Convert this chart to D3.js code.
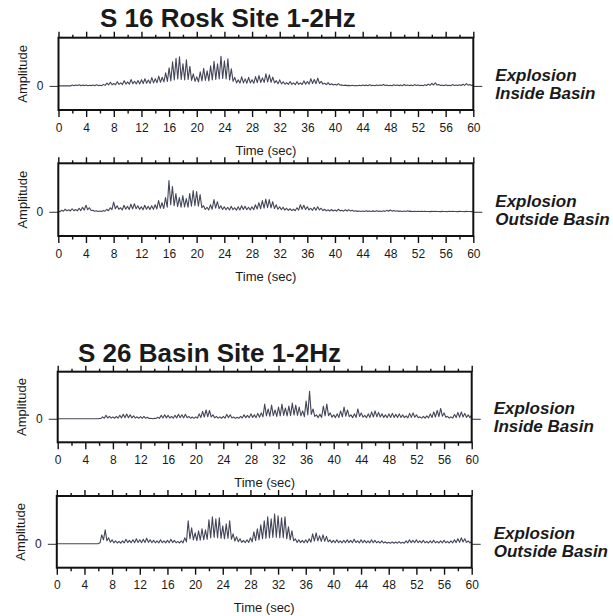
<!DOCTYPE html>
<html>
<head>
<meta charset="utf-8">
<script src="https://cdn.jsdelivr.net/npm/d3@7"></script>
<style>
  html, body { margin: 0; padding: 0; background: #fff; }
  svg { display: block; }
  text { font-family: "Liberation Sans", Arial, Helvetica, sans-serif; fill: #1a1a1a; }
</style>
</head>
<body>
<svg id="chart" width="613" height="616"></svg>
<script>
// ---- Data -------------------------------------------------------------
// Ground-motion traces (1-2 Hz band), relative amplitude.
// Peaks sampled at t = 0, 0.5, 1 ... 60 s; troughs at t = 0.25, 0.75 ... 59.75 s.
const majorTicks = [0, 4, 8, 12, 16, 20, 24, 28, 32, 36, 40, 44, 48, 52, 56, 60];
const minorTicks = [2, 6, 10, 14, 18, 22, 26, 30, 34, 38, 42, 46, 50, 54, 58];
const siteTitles = ["S 16 Rosk Site 1-2Hz", "S 26 Basin Site 1-2Hz"];
const sourceLabels = [
  ["Explosion", "Inside Basin"],
  ["Explosion", "Outside Basin"],
  ["Explosion", "Inside Basin"],
  ["Explosion", "Outside Basin"]
];

const s16InsidePeaks = [
  0, 0, 0, 0.2, 0.8, 1, 1.2, 0.8, 1, 0.6, 0.9, 1.1, 0.7, 1.5, 2.8, 3.6,
  2.4, 4.2, 3.1, 5.2, 4, 6.3, 4.6, 5.4, 6.2, 7.1, 5.8, 8.3, 7.2, 9.8, 8.6, 13,
  18, 24, 27.5, 29, 22, 26, 19.5, 12, 9, 14, 17.5, 15, 20, 24.5, 22, 29.5,
  25, 27, 17, 8.5, 6, 9, 7, 8.5, 6.2, 9.3, 10.2, 8, 12, 11, 8.8, 5.2,
  6, 4.1, 3.2, 4.3, 3, 4.2, 3.1, 5, 4.4, 7.2, 6.3, 7.8, 4.5, 2.6, 3.2, 2.1,
  1.6, 2.2, 1, 0.8, 0.5, 0.6, 0.4, 0.7, 1, 0.8, 1.1, 0.6, 1, 0.9, 1.3, 0.8,
  0.7, 1.2, 1, 0.8, 1.4, 0.9, 0.8, 1.3, 1, 0.6, 1.2, 1.8, 2.6, 3.1, 1.5, 0.8,
  1.1, 0.7, 1.3, 0.9, 1.2, 1.6, 2.2, 1.4, 0.8
];
const s16InsideTroughs = [
  0, 0, 0, 0, 0.2, 0.3, 0.2, 0.3, 0.2, 0.3, 0.2, 0.3, 0.2, 0.5, 1, 1.2,
  1.1, 1.5, 1.3, 1.8, 1.6, 2.2, 1.9, 2, 2.4, 2.6, 2.5, 3, 3.2, 3.6, 4, 4.5,
  5, 6, 7, 6.5, 6, 6.5, 5.5, 4.5, 4, 5, 5.5, 5, 6, 6.5, 7, 7.5,
  7, 6, 4.5, 3, 2.8, 3, 2.7, 3, 2.6, 3.2, 3.4, 3.5, 4, 3.6, 3, 2.2,
  2, 1.6, 1.4, 1.5, 1.3, 1.5, 1.4, 1.7, 1.8, 2.4, 2.2, 2.5, 1.8, 1.2, 1.1, 0.9,
  0.7, 0.6, 0.4, 0.3, 0.2, 0.2, 0.1, 0.2, 0.3, 0.2, 0.3, 0.2, 0.3, 0.3, 0.4, 0.2,
  0.2, 0.4, 0.3, 0.2, 0.4, 0.3, 0.2, 0.4, 0.3, 0.2, 0.4, 0.6, 0.9, 0.8, 0.4, 0.2,
  0.3, 0.2, 0.4, 0.3, 0.4, 0.5, 0.7, 0.4
];

const s16OutsidePeaks = [
  0.3, 1.5, 2.5, 2, 3, 2.2, 3.5, 4.5, 6.5, 4, 1.5, 1, 0.8, 1.2, 2.5, 4,
  9.5, 6, 4, 6.5, 5.5, 7.5, 8, 6, 5, 6.5, 5.5, 6, 7, 11, 9, 14,
  31, 25, 18, 14, 16, 13, 18, 21, 20, 17, 6, 4.5, 7, 12, 10, 6,
  5, 4.5, 5.5, 4, 5, 6, 5.5, 4.5, 5, 7, 9, 11, 12.5, 12, 10, 7,
  5, 4.5, 3.5, 3, 2.5, 4, 7, 6.5, 5, 3.5, 4.5, 5, 3.5, 2.5, 2, 2.2,
  1.8, 2.5, 1.5, 2, 2.2, 1.5, 1, 0.7, 0.8, 1, 0.7, 0.9, 1.1, 0.8, 1, 1.4,
  1.8, 1.3, 1, 0.8, 0.7, 1, 0.6, 0.5, 0.4, 0.6, 0.5, 0.3, 0.4, 0.5, 0.3, 0.4,
  0.3, 0.5, 0.4, 0.3, 0.4, 0.3, 0.4, 0.3, 0.2
];
const s16OutsideTroughs = [
  0.1, 0.6, 0.9, 0.8, 1, 0.9, 1.2, 1.6, 2, 1.2, 0.5, 0.3, 0.3, 0.5, 1, 2,
  3, 2.4, 1.8, 2.5, 2.2, 2.8, 3, 2.4, 2, 2.5, 2.2, 2.4, 2.8, 3.5, 3.2, 4.5,
  7, 6, 5, 4.5, 4.8, 4.5, 5.5, 6, 5.5, 4, 2.2, 1.8, 2.5, 3.5, 3, 2.2,
  2, 1.8, 2, 1.6, 1.8, 2.2, 2, 1.8, 2, 2.6, 3, 3.6, 4, 3.8, 3.2, 2.5,
  2, 1.6, 1.3, 1.1, 1, 1.6, 2.5, 2.2, 1.8, 1.4, 1.6, 1.8, 1.2, 0.9, 0.8, 0.8,
  0.7, 0.9, 0.6, 0.7, 0.7, 0.5, 0.4, 0.3, 0.3, 0.4, 0.3, 0.3, 0.4, 0.3, 0.4, 0.5,
  0.6, 0.5, 0.4, 0.3, 0.3, 0.4, 0.2, 0.2, 0.2, 0.2, 0.2, 0.1, 0.2, 0.2, 0.1, 0.2,
  0.1, 0.2, 0.2, 0.1, 0.2, 0.1, 0.2, 0.1
];

const s26InsidePeaks = [
  0, 0, 0, 0, 0, 0, 0, 0, 0, 0, 0, 0,
  0.3, 2, 3.5, 2.5, 2, 2.5, 3.5, 4.5, 4.8, 4, 3, 2, 2.2, 2.5, 1.5, 0.5,
  0.4, 1.5, 3.5, 4, 3.5, 2.5, 3.5, 4.5, 4, 4.5, 2.5, 1.8, 2, 5, 7.5, 9,
  8.5, 4, 2.5, 2, 2.5, 4.5, 4, 1.8, 1.5, 2.5, 4, 3.5, 5, 4, 5.5, 6,
  15, 10, 14, 9, 12, 15, 11, 13, 16, 14, 12, 8, 18, 28, 10, 4,
  4.5, 13, 15, 6, 4, 5, 8, 12, 9, 4, 5, 10, 6, 3.5, 5, 7,
  8, 6.5, 5, 4, 5, 5.5, 4.5, 5, 4, 3, 5.5, 6, 4, 2, 2.5, 3,
  5, 7, 8.5, 10.5, 6, 2.5, 2, 4.5, 6.5, 7, 5.5, 4, 4
];
const s26InsideTroughs = [
  0, 0, 0, 0, 0, 0, 0, 0, 0, 0, 0, 0,
  0.2, 0.5, 0.8, 0.6, 0.5, 0.6, 0.8, 1, 1.1, 0.9, 0.7, 0.5, 0.5, 0.5, 0.3, 0.1,
  0.2, 0.4, 0.8, 0.9, 0.8, 0.6, 0.8, 1, 0.9, 1, 0.6, 0.4, 0.6, 1.2, 1.8, 2,
  1.8, 0.9, 0.6, 0.5, 0.6, 1, 0.8, 0.4, 0.5, 0.8, 1.2, 1, 1.4, 1.2, 1.6, 2,
  3, 2.5, 3.2, 2.4, 3, 3.5, 2.8, 3.2, 3.8, 3.4, 3, 2.2, 4, 4.5, 2.4, 1.2,
  1.4, 3, 3.2, 1.6, 1.2, 1.4, 2, 2.6, 2.2, 1.2, 1.4, 2.4, 1.6, 1, 1.4, 1.8,
  2, 1.8, 1.4, 1.1, 1.3, 1.4, 1.2, 1.3, 1.1, 0.9, 1.4, 1.5, 1.1, 0.6, 0.7, 0.8,
  1.3, 1.8, 2.2, 2.6, 1.6, 0.7, 0.6, 1.2, 1.6, 1.8, 1.4, 1.1
];

const s26OutsidePeaks = [
  0, 0, 0, 0, 0, 0, 0, 0, 0, 0, 0, 0,
  0.2, 9, 14, 6, 4, 3, 2.5, 3, 4.5, 3.5, 4, 5, 4, 4.5, 5.5, 4,
  3.5, 3, 4, 3, 3.5, 4.5, 3.5, 2.5, 3, 6, 23, 16, 11, 13, 15, 14,
  24, 27, 25, 26, 18, 20, 23, 10, 7, 5, 3.5, 4, 6, 12, 15, 19,
  23, 27, 25, 30, 28, 26, 27, 17, 13, 5, 4, 3.5, 4, 5, 10, 11,
  8, 9, 7.5, 4, 3.5, 4, 3, 3.5, 4, 3.5, 4.5, 3, 4, 3.5, 3, 4,
  3.5, 2.5, 3, 2, 1.5, 2, 1.8, 2.2, 1.5, 3, 4, 3.5, 4, 3, 3.5, 2.5,
  3, 3.5, 2.5, 3, 3.5, 2.5, 3, 4, 5, 6, 5, 3, 2.5
];
const s26OutsideTroughs = [
  0, 0, 0, 0, 0, 0, 0, 0, 0, 0, 0, 0,
  1, 4, 3, 1.5, 1, 0.8, 0.7, 0.9, 1.2, 1, 1.1, 1.3, 1.1, 1.2, 1.4, 1.1,
  1, 0.9, 1.1, 0.9, 1, 1.2, 1, 0.8, 1, 2, 5, 4, 3.2, 3.6, 4, 4.5,
  6, 6.5, 6, 5.5, 5, 5.5, 4.5, 2.8, 2, 1.4, 1.1, 1.3, 2, 3.2, 4, 5,
  5.5, 6, 6.5, 6.5, 6, 6, 5, 4, 3, 1.4, 1.2, 1, 1.2, 1.6, 2.8, 3,
  2.4, 2.5, 2, 1.2, 1.1, 1.2, 0.9, 1, 1.2, 1.1, 1.3, 0.9, 1.1, 1, 0.9, 1.1,
  1, 0.8, 0.8, 0.6, 0.5, 0.6, 0.6, 0.6, 0.6, 0.9, 1.2, 1.1, 1.1, 0.9, 1, 0.8,
  0.9, 1, 0.8, 0.9, 1, 0.8, 0.9, 1.2, 1.5, 1.8, 1.4, 0.9
];

const tracePeaks = [s16InsidePeaks, s16OutsidePeaks, s26InsidePeaks, s26OutsidePeaks];
const traceTroughs = [s16InsideTroughs, s16OutsideTroughs, s26InsideTroughs, s26OutsideTroughs];

// ---- Layout -----------------------------------------------------------
const panels = [
  { left: 58.5, right: 473.3, top: 37.7,  bottom: 110   },
  { left: 58.3, right: 473.3, top: 163.3, bottom: 236   },
  { left: 57.7, right: 471.7, top: 371.7, bottom: 442.3 },
  { left: 56.8, right: 471.7, top: 496,   bottom: 567.7 }
];
const titlePos = [ { x: 100, y: 27.3 }, { x: 78, y: 362.3 } ];
const traceColor = "#434659";

const svg = d3.select("#chart");

siteTitles.forEach((t, i) => {
  svg.append("text")
    .attr("x", titlePos[i].x)
    .attr("y", titlePos[i].y)
    .attr("font-size", 26)
    .attr("font-weight", "bold")
    .attr("fill", "#111")
    .text(t);
});

panels.forEach((p, k) => {
  const x = d3.scaleLinear().domain([0, 60]).range([p.left, p.right]);
  const y = d3.scaleLinear().domain([-24, 48]).range([p.bottom, p.top]);
  const g = svg.append("g");

  // trace: alternate peak / trough samples
  const pts = [];
  const pk = tracePeaks[k], tr = traceTroughs[k];
  pk.forEach((v, i) => {
    pts.push([i * 0.5, v]);
    if (i < tr.length) pts.push([i * 0.5 + 0.25, tr[i]]);
  });
  g.append("path")
    .datum(pts)
    .attr("fill", "none")
    .attr("stroke", traceColor)
    .attr("stroke-width", 1.1)
    .attr("stroke-linejoin", "round")
    .attr("d", d3.line().x(d => x(d[0])).y(d => y(d[1])));

  // bottom axis: major ticks labelled, minor ticks short; top axis ticks only
  const bottomMajor = d3.axisBottom(x).tickValues(majorTicks).tickSize(7).tickPadding(6).tickFormat(d3.format("d"));
  const bottomMinor = d3.axisBottom(x).tickValues(minorTicks).tickSize(3.5).tickFormat("");
  const topMajor = d3.axisTop(x).tickValues(majorTicks).tickSize(6).tickFormat("");
  const topMinor = d3.axisTop(x).tickValues(minorTicks).tickSize(3).tickFormat("");

  const gb = g.append("g").attr("transform", `translate(0,${p.bottom})`).call(bottomMajor);
  g.append("g").attr("transform", `translate(0,${p.bottom})`).call(bottomMinor);
  g.append("g").attr("transform", `translate(0,${p.top})`).call(topMajor);
  g.append("g").attr("transform", `translate(0,${p.top})`).call(topMinor);
  g.selectAll(".domain").remove();
  g.selectAll(".tick line").attr("stroke", "#111").attr("stroke-width", 1.4);
  gb.selectAll(".tick text")
    .attr("font-family", "Liberation Sans, Arial, sans-serif")
    .attr("font-size", 12)
    .attr("fill", "#1a1a1a");

  // zero tick, extended on both sides of the frame
  const left = d3.axisLeft(y).tickValues([0]).tickSize(9).tickPadding(6);
  const gl = g.append("g").attr("transform", `translate(${p.left},0)`).call(left);
  gl.select(".domain").remove();
  gl.selectAll(".tick line").attr("stroke", "#333").attr("stroke-width", 1);
  gl.selectAll(".tick text").attr("font-family", "Liberation Sans, Arial, sans-serif")
    .attr("font-size", 12).attr("fill", "#1a1a1a");
  const right = d3.axisRight(y).tickValues([0]).tickSize(9).tickFormat("");
  const gr = g.append("g").attr("transform", `translate(${p.right},0)`).call(right);
  gr.select(".domain").remove();
  gr.selectAll(".tick line").attr("stroke", "#333").attr("stroke-width", 1);

  // frame
  g.append("rect")
    .attr("x", p.left).attr("y", p.top)
    .attr("width", p.right - p.left).attr("height", p.bottom - p.top)
    .attr("fill", "none").attr("stroke", "#111").attr("stroke-width", 2);

  // axis titles
  g.append("text")
    .attr("transform", `translate(${p.left - 36},${(p.top + p.bottom) / 2}) rotate(-90)`)
    .attr("text-anchor", "middle")
    .attr("dominant-baseline", "central")
    .attr("font-size", 13)
    .text("Amplitude");
  g.append("text")
    .attr("x", (p.left + p.right) / 2)
    .attr("y", p.bottom + 44.5)
    .attr("text-anchor", "middle")
    .attr("font-size", 13)
    .text("Time (sec)");

  // source annotation
  const zy = y(0);
  const lab = g.append("text")
    .attr("font-size", 17)
    .attr("font-weight", "bold")
    .attr("font-style", "italic")
    .attr("fill", "#111");
  lab.append("tspan").attr("x", p.right + 22).attr("y", zy - 5).text(sourceLabels[k][0]);
  lab.append("tspan").attr("x", p.right + 22).attr("y", zy + 13.5).text(sourceLabels[k][1]);
});
</script>
</body>
</html>
